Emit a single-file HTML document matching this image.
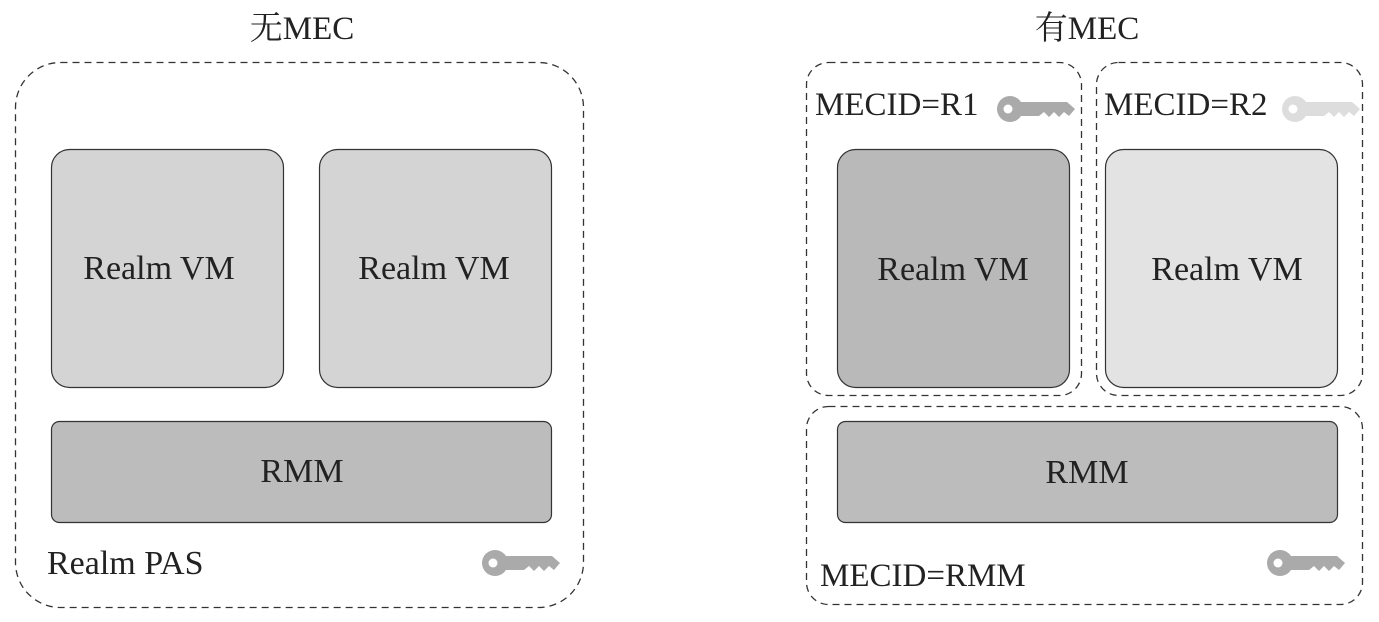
<!DOCTYPE html>
<html><head><meta charset="utf-8"><style>
html,body{margin:0;padding:0;background:#fff;}
svg{display:block;}
text{font-family:"Liberation Serif","Noto Serif CJK SC",serif;fill:#222;}
</style></head><body>
<svg width="1379" height="622" viewBox="0 0 1379 622" xmlns="http://www.w3.org/2000/svg">
<defs>
<g id="key">
<circle cx="13" cy="12" r="13"/>
<path d="M20 5 H70 L78 12 L72 19 L67 15 L62 20 L57 15 L52 20 L47 15 L42 19 L20 19 Z"/>
</g>
</defs>
<text x="302" y="39" font-size="33" text-anchor="middle">无MEC</text>
<text x="1087" y="39" font-size="33" text-anchor="middle">有MEC</text>

<rect x="15.5" y="62.5" width="568" height="545" rx="45" fill="none" stroke="#333" stroke-width="1.3" stroke-dasharray="7,5"/>
<rect x="51.5" y="149.5" width="232" height="238" rx="18" fill="#d4d4d4" stroke="#333" stroke-width="1.2"/>
<rect x="319.5" y="149.5" width="232" height="238" rx="18" fill="#d4d4d4" stroke="#333" stroke-width="1.2"/>
<text x="159" y="279" font-size="34" text-anchor="middle">Realm VM</text>
<text x="434" y="279" font-size="34" text-anchor="middle">Realm VM</text>
<rect x="51.5" y="421.5" width="500" height="101" rx="8" fill="#bcbcbc" stroke="#333" stroke-width="1.2"/>
<text x="302" y="482" font-size="34" text-anchor="middle">RMM</text>
<text x="47" y="574" font-size="34">Realm PAS</text>
<g transform="translate(482,551)" fill="#aaa"><use href="#key"/><circle cx="11" cy="12" r="4.5" fill="#fff"/></g>

<rect x="806.5" y="62.5" width="275" height="333" rx="22" fill="none" stroke="#333" stroke-width="1.3" stroke-dasharray="7,5"/>
<rect x="1096.5" y="62.5" width="266" height="333" rx="22" fill="none" stroke="#333" stroke-width="1.3" stroke-dasharray="7,5"/>
<rect x="806.5" y="406.5" width="556" height="198" rx="22" fill="none" stroke="#333" stroke-width="1.3" stroke-dasharray="7,5"/>
<text x="815" y="115" font-size="33">MECID=R1</text>
<text x="1104" y="115" font-size="33">MECID=R2</text>
<g transform="translate(997,97)" fill="#aaa"><use href="#key"/><circle cx="11" cy="12" r="4.5" fill="#fff"/></g>
<g transform="translate(1282,97)" fill="#ddd"><use href="#key"/><circle cx="11" cy="12" r="4.5" fill="#fff"/></g>
<rect x="837.5" y="149.5" width="232" height="238" rx="18" fill="#b9b9b9" stroke="#333" stroke-width="1.2"/>
<rect x="1105.5" y="149.5" width="232" height="238" rx="18" fill="#e3e3e3" stroke="#333" stroke-width="1.2"/>
<text x="953" y="280" font-size="34" text-anchor="middle">Realm VM</text>
<text x="1227" y="280" font-size="34" text-anchor="middle">Realm VM</text>
<rect x="837.5" y="421.5" width="500" height="101" rx="8" fill="#bcbcbc" stroke="#333" stroke-width="1.2"/>
<text x="1087" y="483" font-size="34" text-anchor="middle">RMM</text>
<text x="820" y="586" font-size="33">MECID=RMM</text>
<g transform="translate(1267,551)" fill="#aaa"><use href="#key"/><circle cx="11" cy="12" r="4.5" fill="#fff"/></g>
</svg>
</body></html>
